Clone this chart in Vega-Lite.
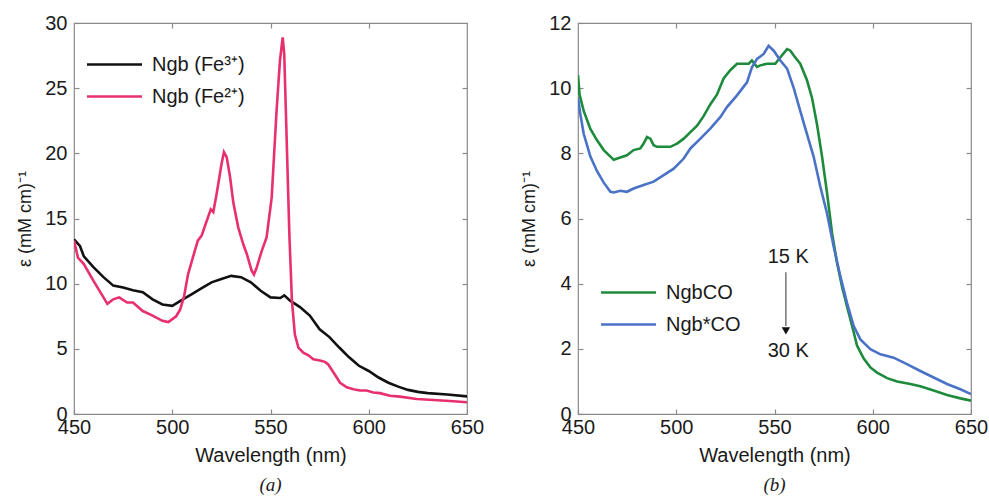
{
  "$schema": "https://vega.github.io/schema/vega-lite/v6.json",
  "background": "white",
  "padding": {"left": 16, "top": 12, "right": 5, "bottom": 0},
  "spacing": 35,
  "resolve": {"scale": {"color": "independent"}, "legend": {"color": "independent"}},
  "config": {
    "view": {"stroke": "#8a8a8a", "strokeWidth": 1.2},
    "font": "Liberation Sans",
    "axis": {
      "domain": false,
      "grid": false,
      "labelFlush": false,
      "labelOverlap": false,
      "tickSize": -5,
      "tickColor": "#8a8a8a",
      "tickWidth": 1.2,
      "labelFont": "Liberation Sans",
      "labelFontSize": 20,
      "labelColor": "#1a1a1a",
      "labelPadding": 12,
      "titleFont": "Liberation Sans",
      "titleFontSize": 20,
      "titleFontWeight": "normal",
      "titleColor": "#1a1a1a"
    },
    "axisX": {"labelPadding": 8},
    "legend": {
      "labelFont": "Liberation Sans",
      "labelFontSize": 20,
      "labelColor": "#1a1a1a",
      "symbolType": "M-2.5,0H2.5",
      "symbolSize": 484,
      "symbolStrokeWidth": 2.5,
      "padding": 0,
      "rowPadding": 9,
      "labelOffset": 25
    },
    "title": {
      "orient": "bottom",
      "font": "Liberation Serif",
      "fontStyle": "italic",
      "fontWeight": "normal",
      "fontSize": 19,
      "color": "#1a1a1a",
      "offset": 11
    }
  },
  "datasets": {
    "a": [
      {"s":"Ngb (Fe³⁺)","wl":450,"v":13.4},{"s":"Ngb (Fe³⁺)","wl":453,"v":12.9},{"s":"Ngb (Fe³⁺)","wl":455,"v":12.1},{"s":"Ngb (Fe³⁺)","wl":460,"v":11.25},{"s":"Ngb (Fe³⁺)","wl":465,"v":10.5},{"s":"Ngb (Fe³⁺)","wl":470,"v":9.85},{"s":"Ngb (Fe³⁺)","wl":475,"v":9.7},{"s":"Ngb (Fe³⁺)","wl":480,"v":9.5},{"s":"Ngb (Fe³⁺)","wl":485,"v":9.35},{"s":"Ngb (Fe³⁺)","wl":490,"v":8.8},{"s":"Ngb (Fe³⁺)","wl":495,"v":8.4},{"s":"Ngb (Fe³⁺)","wl":500,"v":8.3},{"s":"Ngb (Fe³⁺)","wl":505,"v":8.75},{"s":"Ngb (Fe³⁺)","wl":510,"v":9.2},{"s":"Ngb (Fe³⁺)","wl":515,"v":9.65},{"s":"Ngb (Fe³⁺)","wl":520,"v":10.1},{"s":"Ngb (Fe³⁺)","wl":525,"v":10.35},{"s":"Ngb (Fe³⁺)","wl":530,"v":10.6},{"s":"Ngb (Fe³⁺)","wl":535,"v":10.5},{"s":"Ngb (Fe³⁺)","wl":540,"v":10.1},{"s":"Ngb (Fe³⁺)","wl":545,"v":9.45},{"s":"Ngb (Fe³⁺)","wl":550,"v":8.95},{"s":"Ngb (Fe³⁺)","wl":555,"v":8.9},{"s":"Ngb (Fe³⁺)","wl":557,"v":9.1},{"s":"Ngb (Fe³⁺)","wl":560,"v":8.7},{"s":"Ngb (Fe³⁺)","wl":565,"v":8.2},{"s":"Ngb (Fe³⁺)","wl":570,"v":7.55},{"s":"Ngb (Fe³⁺)","wl":575,"v":6.5},{"s":"Ngb (Fe³⁺)","wl":580,"v":5.9},{"s":"Ngb (Fe³⁺)","wl":585,"v":5.1},{"s":"Ngb (Fe³⁺)","wl":590,"v":4.35},{"s":"Ngb (Fe³⁺)","wl":595,"v":3.7},{"s":"Ngb (Fe³⁺)","wl":600,"v":3.3},{"s":"Ngb (Fe³⁺)","wl":605,"v":2.8},{"s":"Ngb (Fe³⁺)","wl":610,"v":2.4},{"s":"Ngb (Fe³⁺)","wl":615,"v":2.1},{"s":"Ngb (Fe³⁺)","wl":620,"v":1.85},{"s":"Ngb (Fe³⁺)","wl":625,"v":1.7},{"s":"Ngb (Fe³⁺)","wl":630,"v":1.6},{"s":"Ngb (Fe³⁺)","wl":640,"v":1.5},{"s":"Ngb (Fe³⁺)","wl":650,"v":1.35},
      {"s":"Ngb (Fe²⁺)","wl":450,"v":13.3},{"s":"Ngb (Fe²⁺)","wl":452,"v":12.0},{"s":"Ngb (Fe²⁺)","wl":455,"v":11.5},{"s":"Ngb (Fe²⁺)","wl":460,"v":10.2},{"s":"Ngb (Fe²⁺)","wl":465,"v":8.95},{"s":"Ngb (Fe²⁺)","wl":467,"v":8.45},{"s":"Ngb (Fe²⁺)","wl":470,"v":8.8},{"s":"Ngb (Fe²⁺)","wl":473,"v":8.95},{"s":"Ngb (Fe²⁺)","wl":477,"v":8.55},{"s":"Ngb (Fe²⁺)","wl":480,"v":8.55},{"s":"Ngb (Fe²⁺)","wl":485,"v":7.9},{"s":"Ngb (Fe²⁺)","wl":490,"v":7.55},{"s":"Ngb (Fe²⁺)","wl":495,"v":7.15},{"s":"Ngb (Fe²⁺)","wl":498,"v":7.05},{"s":"Ngb (Fe²⁺)","wl":502,"v":7.5},{"s":"Ngb (Fe²⁺)","wl":504,"v":8.0},{"s":"Ngb (Fe²⁺)","wl":506,"v":9.0},{"s":"Ngb (Fe²⁺)","wl":508,"v":10.7},{"s":"Ngb (Fe²⁺)","wl":510,"v":11.75},{"s":"Ngb (Fe²⁺)","wl":513,"v":13.3},{"s":"Ngb (Fe²⁺)","wl":515,"v":13.7},{"s":"Ngb (Fe²⁺)","wl":517.5,"v":14.8},{"s":"Ngb (Fe²⁺)","wl":519.6,"v":15.7},{"s":"Ngb (Fe²⁺)","wl":520.9,"v":15.5},{"s":"Ngb (Fe²⁺)","wl":522.6,"v":16.9},{"s":"Ngb (Fe²⁺)","wl":525.1,"v":19.2},{"s":"Ngb (Fe²⁺)","wl":526.3,"v":20.1},{"s":"Ngb (Fe²⁺)","wl":527.7,"v":19.7},{"s":"Ngb (Fe²⁺)","wl":529.4,"v":18.2},{"s":"Ngb (Fe²⁺)","wl":531.1,"v":16.2},{"s":"Ngb (Fe²⁺)","wl":533.6,"v":14.3},{"s":"Ngb (Fe²⁺)","wl":536.2,"v":13.0},{"s":"Ngb (Fe²⁺)","wl":537.9,"v":12.3},{"s":"Ngb (Fe²⁺)","wl":540.4,"v":11.0},{"s":"Ngb (Fe²⁺)","wl":541.6,"v":10.7},{"s":"Ngb (Fe²⁺)","wl":543.0,"v":11.25},{"s":"Ngb (Fe²⁺)","wl":545.5,"v":12.5},{"s":"Ngb (Fe²⁺)","wl":548.0,"v":13.55},{"s":"Ngb (Fe²⁺)","wl":550.6,"v":16.6},{"s":"Ngb (Fe²⁺)","wl":553.1,"v":23.3},{"s":"Ngb (Fe²⁺)","wl":554.8,"v":27.1},{"s":"Ngb (Fe²⁺)","wl":556.2,"v":28.9},{"s":"Ngb (Fe²⁺)","wl":557.0,"v":27.6},{"s":"Ngb (Fe²⁺)","wl":557.9,"v":22.8},{"s":"Ngb (Fe²⁺)","wl":559.6,"v":13.8},{"s":"Ngb (Fe²⁺)","wl":560.9,"v":8.7},{"s":"Ngb (Fe²⁺)","wl":562.4,"v":6.1},{"s":"Ngb (Fe²⁺)","wl":564.2,"v":5.1},{"s":"Ngb (Fe²⁺)","wl":566.7,"v":4.7},{"s":"Ngb (Fe²⁺)","wl":569.3,"v":4.5},{"s":"Ngb (Fe²⁺)","wl":571.8,"v":4.2},{"s":"Ngb (Fe²⁺)","wl":575.2,"v":4.1},{"s":"Ngb (Fe²⁺)","wl":577.7,"v":4.0},{"s":"Ngb (Fe²⁺)","wl":579.4,"v":3.8},{"s":"Ngb (Fe²⁺)","wl":582.0,"v":3.2},{"s":"Ngb (Fe²⁺)","wl":585.4,"v":2.4},{"s":"Ngb (Fe²⁺)","wl":588.8,"v":2.05},{"s":"Ngb (Fe²⁺)","wl":592.2,"v":1.9},{"s":"Ngb (Fe²⁺)","wl":595.5,"v":1.8},{"s":"Ngb (Fe²⁺)","wl":598.9,"v":1.8},{"s":"Ngb (Fe²⁺)","wl":602.3,"v":1.65},{"s":"Ngb (Fe²⁺)","wl":605.7,"v":1.6},{"s":"Ngb (Fe²⁺)","wl":610.8,"v":1.4},{"s":"Ngb (Fe²⁺)","wl":615.9,"v":1.33},{"s":"Ngb (Fe²⁺)","wl":624.4,"v":1.15},{"s":"Ngb (Fe²⁺)","wl":632.9,"v":1.07},{"s":"Ngb (Fe²⁺)","wl":641.3,"v":1.0},{"s":"Ngb (Fe²⁺)","wl":650,"v":0.9}
    ],
    "b": [
      {"s":"NgbCO","wl":450,"v":10.4},{"s":"NgbCO","wl":450.8,"v":9.8},{"s":"NgbCO","wl":452.9,"v":9.3},{"s":"NgbCO","wl":456.3,"v":8.75},{"s":"NgbCO","wl":459.7,"v":8.4},{"s":"NgbCO","wl":463.1,"v":8.1},{"s":"NgbCO","wl":466.5,"v":7.9},{"s":"NgbCO","wl":468.2,"v":7.8},{"s":"NgbCO","wl":471.5,"v":7.87},{"s":"NgbCO","wl":474.9,"v":7.94},{"s":"NgbCO","wl":478.3,"v":8.1},{"s":"NgbCO","wl":481.7,"v":8.15},{"s":"NgbCO","wl":483.4,"v":8.3},{"s":"NgbCO","wl":485.1,"v":8.5},{"s":"NgbCO","wl":486.8,"v":8.45},{"s":"NgbCO","wl":488.5,"v":8.25},{"s":"NgbCO","wl":490.2,"v":8.2},{"s":"NgbCO","wl":493.6,"v":8.2},{"s":"NgbCO","wl":497.0,"v":8.2},{"s":"NgbCO","wl":500.4,"v":8.3},{"s":"NgbCO","wl":503.8,"v":8.45},{"s":"NgbCO","wl":507.2,"v":8.65},{"s":"NgbCO","wl":510.6,"v":8.85},{"s":"NgbCO","wl":514.0,"v":9.15},{"s":"NgbCO","wl":517.3,"v":9.5},{"s":"NgbCO","wl":520.7,"v":9.8},{"s":"NgbCO","wl":524.1,"v":10.3},{"s":"NgbCO","wl":527.5,"v":10.55},{"s":"NgbCO","wl":530.9,"v":10.75},{"s":"NgbCO","wl":534.3,"v":10.75},{"s":"NgbCO","wl":536.9,"v":10.75},{"s":"NgbCO","wl":538.5,"v":10.85},{"s":"NgbCO","wl":541.1,"v":10.65},{"s":"NgbCO","wl":542.8,"v":10.7},{"s":"NgbCO","wl":546.2,"v":10.75},{"s":"NgbCO","wl":550.4,"v":10.75},{"s":"NgbCO","wl":553.0,"v":10.95},{"s":"NgbCO","wl":556.4,"v":11.2},{"s":"NgbCO","wl":558.1,"v":11.15},{"s":"NgbCO","wl":559.8,"v":11.0},{"s":"NgbCO","wl":563.1,"v":10.75},{"s":"NgbCO","wl":566.5,"v":10.25},{"s":"NgbCO","wl":569.1,"v":9.7},{"s":"NgbCO","wl":571.6,"v":8.9},{"s":"NgbCO","wl":574.2,"v":7.9},{"s":"NgbCO","wl":576.7,"v":6.8},{"s":"NgbCO","wl":579.3,"v":5.55},{"s":"NgbCO","wl":581.8,"v":4.65},{"s":"NgbCO","wl":584.4,"v":3.9},{"s":"NgbCO","wl":586.9,"v":3.3},{"s":"NgbCO","wl":589.5,"v":2.7},{"s":"NgbCO","wl":592.0,"v":2.1},{"s":"NgbCO","wl":595.4,"v":1.7},{"s":"NgbCO","wl":598.8,"v":1.43},{"s":"NgbCO","wl":602.2,"v":1.27},{"s":"NgbCO","wl":607.3,"v":1.1},{"s":"NgbCO","wl":612.4,"v":1.0},{"s":"NgbCO","wl":619.1,"v":0.92},{"s":"NgbCO","wl":624.2,"v":0.85},{"s":"NgbCO","wl":631.0,"v":0.72},{"s":"NgbCO","wl":637.8,"v":0.58},{"s":"NgbCO","wl":644.6,"v":0.48},{"s":"NgbCO","wl":650,"v":0.41},
      {"s":"Ngb*CO","wl":450,"v":9.7},{"s":"Ngb*CO","wl":451.2,"v":9.2},{"s":"Ngb*CO","wl":452.9,"v":8.6},{"s":"Ngb*CO","wl":456.3,"v":7.9},{"s":"Ngb*CO","wl":459.7,"v":7.45},{"s":"Ngb*CO","wl":463.1,"v":7.1},{"s":"Ngb*CO","wl":466.5,"v":6.82},{"s":"Ngb*CO","wl":468.2,"v":6.8},{"s":"Ngb*CO","wl":471.5,"v":6.85},{"s":"Ngb*CO","wl":474.9,"v":6.82},{"s":"Ngb*CO","wl":478.3,"v":6.92},{"s":"Ngb*CO","wl":483.4,"v":7.03},{"s":"Ngb*CO","wl":488.5,"v":7.13},{"s":"Ngb*CO","wl":493.6,"v":7.33},{"s":"Ngb*CO","wl":498.7,"v":7.53},{"s":"Ngb*CO","wl":503.8,"v":7.84},{"s":"Ngb*CO","wl":507.2,"v":8.15},{"s":"Ngb*CO","wl":512.3,"v":8.45},{"s":"Ngb*CO","wl":517.3,"v":8.76},{"s":"Ngb*CO","wl":522.4,"v":9.11},{"s":"Ngb*CO","wl":525.8,"v":9.42},{"s":"Ngb*CO","wl":530.9,"v":9.78},{"s":"Ngb*CO","wl":536.0,"v":10.18},{"s":"Ngb*CO","wl":538.5,"v":10.64},{"s":"Ngb*CO","wl":541.1,"v":10.9},{"s":"Ngb*CO","wl":544.5,"v":11.05},{"s":"Ngb*CO","wl":547.0,"v":11.3},{"s":"Ngb*CO","wl":549.6,"v":11.15},{"s":"Ngb*CO","wl":553.0,"v":10.85},{"s":"Ngb*CO","wl":556.4,"v":10.6},{"s":"Ngb*CO","wl":559.8,"v":10.0},{"s":"Ngb*CO","wl":563.1,"v":9.3},{"s":"Ngb*CO","wl":566.5,"v":8.6},{"s":"Ngb*CO","wl":569.9,"v":7.9},{"s":"Ngb*CO","wl":573.3,"v":6.98},{"s":"Ngb*CO","wl":576.7,"v":6.16},{"s":"Ngb*CO","wl":580.1,"v":5.14},{"s":"Ngb*CO","wl":583.5,"v":4.23},{"s":"Ngb*CO","wl":586.9,"v":3.41},{"s":"Ngb*CO","wl":590.3,"v":2.7},{"s":"Ngb*CO","wl":593.7,"v":2.29},{"s":"Ngb*CO","wl":598.8,"v":1.99},{"s":"Ngb*CO","wl":603.9,"v":1.83},{"s":"Ngb*CO","wl":610.6,"v":1.73},{"s":"Ngb*CO","wl":617.4,"v":1.53},{"s":"Ngb*CO","wl":624.2,"v":1.32},{"s":"Ngb*CO","wl":631.0,"v":1.12},{"s":"Ngb*CO","wl":637.8,"v":0.92},{"s":"Ngb*CO","wl":644.6,"v":0.76},{"s":"Ngb*CO","wl":650,"v":0.61}
    ],
    "labels": [
      {"wl":557,"v":4.82,"t":"15 K"},
      {"wl":557,"v":1.92,"t":"30 K"}
    ],
    "arrow": [
      {"wl":555.8,"v":4.35,"v2":2.7}
    ],
    "head": [
      {"wl":555.8,"v":2.55}
    ]
  },
  "hconcat": [
    {
      "width": 393,
      "height": 391,
      "title": {"text": "(a)"},
      "data": {"name": "a"},
      "resolve": {"axis": {"x": "independent", "y": "independent"}},
      "layer": [
        {
          "mark": {"type": "line", "strokeWidth": 2.6, "clip": true},
          "encoding": {
            "x": {"field": "wl", "type": "quantitative", "scale": {"domain": [450, 650], "nice": false, "zero": false},
                  "axis": {"orient": "bottom", "values": [450, 500, 550, 600, 650], "title": "Wavelength (nm)", "titlePadding": 8}},
            "y": {"field": "v", "type": "quantitative", "scale": {"domain": [0, 30], "nice": false},
                  "axis": {"orient": "left", "values": [0, 5, 10, 15, 20, 25, 30], "title": "ε (mM cm)⁻¹", "titleFontSize": 18, "titlePadding": 10}},
            "color": {"field": "s", "type": "nominal", "sort": ["Ngb (Fe³⁺)", "Ngb (Fe²⁺)"],
                      "scale": {"domain": ["Ngb (Fe³⁺)", "Ngb (Fe²⁺)"], "range": ["#111111", "#e8306c"]},
                      "legend": {"title": null, "orient": "none", "legendX": 28, "legendY": 29}}
          }
        },
        {
          "mark": {"type": "line", "strokeWidth": 0, "opacity": 0},
          "encoding": {
            "x": {"field": "wl", "type": "quantitative", "axis": {"orient": "top", "values": [500, 550, 600], "labels": false, "title": null}},
            "y": {"field": "v", "type": "quantitative", "axis": {"orient": "right", "values": [5, 10, 15, 20, 25], "labels": false, "title": null}}
          }
        }
      ]
    },
    {
      "width": 393,
      "height": 391,
      "title": {"text": "(b)"},
      "resolve": {"axis": {"x": "independent", "y": "independent"}},
      "layer": [
        {
          "data": {"name": "b"},
          "mark": {"type": "line", "strokeWidth": 2.6, "clip": true},
          "encoding": {
            "x": {"field": "wl", "type": "quantitative", "scale": {"domain": [450, 650], "nice": false, "zero": false},
                  "axis": {"orient": "bottom", "values": [450, 500, 550, 600, 650], "title": "Wavelength (nm)", "titlePadding": 8}},
            "y": {"field": "v", "type": "quantitative", "scale": {"domain": [0, 12], "nice": false},
                  "axis": {"orient": "left", "values": [0, 2, 4, 6, 8, 10, 12], "title": "ε (mM cm)⁻¹", "titleFontSize": 18, "titlePadding": 10}},
            "color": {"field": "s", "type": "nominal", "sort": ["NgbCO", "Ngb*CO"],
                      "scale": {"domain": ["NgbCO", "Ngb*CO"], "range": ["#1e8a3c", "#4a72c6"]},
                      "legend": {"title": null, "orient": "none", "legendX": 38, "legendY": 257}}
          }
        },
        {
          "data": {"name": "b"},
          "mark": {"type": "line", "strokeWidth": 0, "opacity": 0},
          "encoding": {
            "x": {"field": "wl", "type": "quantitative", "axis": {"orient": "top", "values": [500, 550, 600], "labels": false, "title": null}},
            "y": {"field": "v", "type": "quantitative", "axis": {"orient": "right", "values": [2, 4, 6, 8, 10], "labels": false, "title": null}}
          }
        },
        {
          "data": {"name": "labels"},
          "mark": {"type": "text", "fontSize": 20, "font": "Liberation Sans", "color": "#1a1a1a"},
          "encoding": {"x": {"field": "wl", "type": "quantitative", "axis": null}, "y": {"field": "v", "type": "quantitative", "axis": null}, "text": {"field": "t"}}
        },
        {
          "data": {"name": "arrow"},
          "mark": {"type": "rule", "color": "#555555", "strokeWidth": 1.2},
          "encoding": {"x": {"field": "wl", "type": "quantitative", "axis": null}, "y": {"field": "v", "type": "quantitative", "axis": null}, "y2": {"field": "v2"}}
        },
        {
          "data": {"name": "head"},
          "mark": {"type": "point", "shape": "triangle-down", "filled": true, "color": "#111111", "size": 70, "opacity": 1},
          "encoding": {"x": {"field": "wl", "type": "quantitative", "axis": null}, "y": {"field": "v", "type": "quantitative", "axis": null}}
        }
      ]
    }
  ]
}
